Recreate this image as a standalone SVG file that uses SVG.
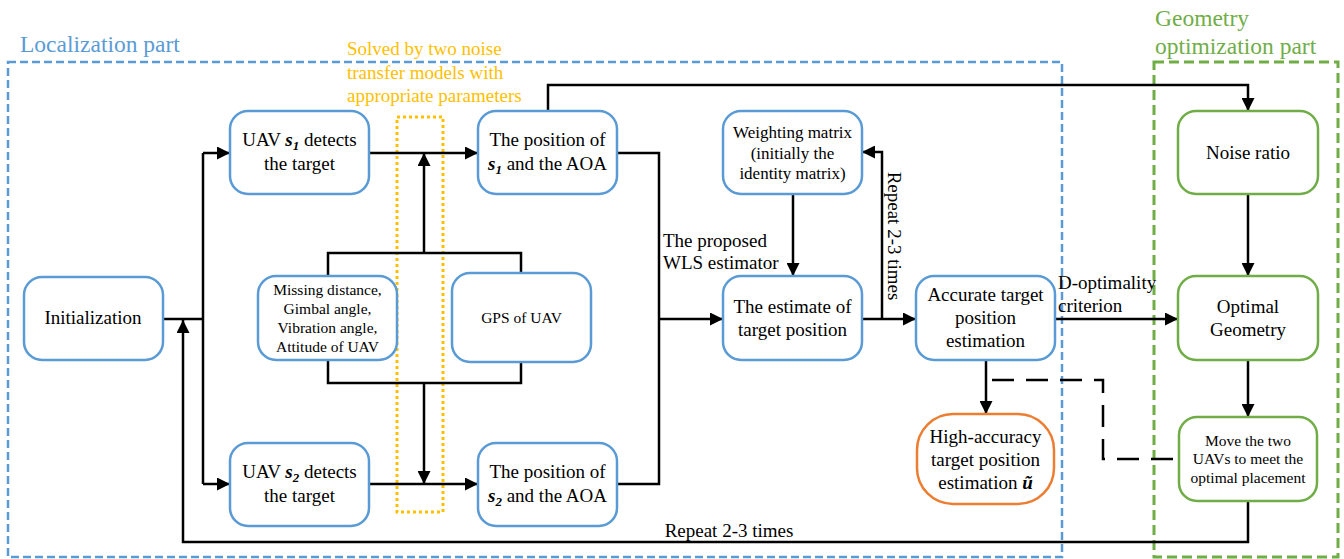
<svg xmlns="http://www.w3.org/2000/svg" width="1344" height="559" viewBox="0 0 1344 559" font-family="'Liberation Serif', 'DejaVu Serif', serif">
<defs>
<marker id="ah" viewBox="0 0 10 10" refX="10" refY="5" markerWidth="13" markerHeight="13" markerUnits="userSpaceOnUse" orient="auto">
<path d="M0,0 L10,5 L0,10 z" fill="#000"/>
</marker>
</defs>
<style>
text{font-family:'Liberation Serif','DejaVu Serif',serif;fill:#000}
.t{font-size:19px;text-anchor:middle}
.s{font-size:15.5px;text-anchor:middle}
.lab{font-size:19px}
.b{fill:#fff;stroke:#5B9BD5;stroke-width:2.5}
.g{fill:#fff;stroke:#70AD47;stroke-width:2.5}
.o{fill:#fff;stroke:#ED7D31;stroke-width:2.5}
.c{fill:none;stroke:#000;stroke-width:2.5}
.a{marker-end:url(#ah)}
.v{font-weight:bold;font-style:italic}
</style>
<rect width="1344" height="559" fill="#fff"/>
<g id="regions">
<rect x="8" y="62" width="1054" height="495" fill="none" stroke="#5B9BD5" stroke-width="2.5" stroke-dasharray="8 4"/>
<rect x="1154" y="62" width="184" height="495" fill="none" stroke="#70AD47" stroke-width="3" stroke-dasharray="10 5"/>
<rect x="397" y="117" width="46" height="395" fill="none" stroke="#FFC000" stroke-width="3" stroke-dasharray="3 3"/>
<text x="20" y="52" style="font-size:23.5px;fill:#5B9BD5">Localization part</text>
<text x="1155" y="26" style="font-size:23.5px;fill:#70AD47">Geometry</text>
<text x="1155" y="54" style="font-size:23.5px;fill:#70AD47">optimization part</text>
<text x="347" y="55" style="font-size:19px;fill:#FFC000">Solved by two noise</text>
<text x="347" y="79" style="font-size:19px;fill:#FFC000">transfer models with</text>
<text x="347" y="102" style="font-size:19px;fill:#FFC000">appropriate parameters</text>
</g>
<g id="connectors">
<path class="c" d="M163,319 H203"/>
<path class="c" d="M203,153 V484"/>
<path class="c a" d="M203,153 H230"/>
<path class="c a" d="M203,484 H230"/>
<path class="c a" d="M369,153 H478"/>
<path class="c a" d="M369,484 H478"/>
<path class="c" d="M328,276 V253 H521 V273"/>
<path class="c a" d="M424,253 V153"/>
<path class="c" d="M328,360 V383 H521 V362"/>
<path class="c a" d="M424,383 V484"/>
<path class="c" d="M617,153 H659 V484 H617"/>
<path class="c a" d="M659,319 H723"/>
<path class="c a" d="M793,194 V276"/>
<path class="c a" d="M862,319 H916"/>
<path class="c a" d="M882,319 V152 H862"/>
<path class="c a" d="M1055,319 H1178"/>
<path class="c a" d="M986,360 V414"/>
<path class="c" d="M992,380 H1103 V459 H1179" stroke-dasharray="22 12"/>
<path class="c a" d="M548,111 V85 H1248 V111"/>
<path class="c a" d="M1248,194 V276"/>
<path class="c a" d="M1248,360 V417"/>
<path class="c a" d="M1248,501 V542 H183 V320"/>
<text class="lab" x="663" y="247">The proposed</text>
<text class="lab" x="663" y="269">WLS estimator</text>
<text class="lab" x="1058" y="289">D-optimality</text>
<text class="lab" x="1058" y="312">criterion</text>
<text class="lab" transform="translate(888,236) rotate(90)" text-anchor="middle">Repeat 2-3 times</text>
<text class="lab" x="729" y="537" text-anchor="middle">Repeat 2-3 times</text>
</g>
<g id="init">
<rect class="b" x="24" y="277" width="139" height="83" rx="18"/>
<text class="t" x="93" y="324">Initialization</text>
</g>
<g id="uav1">
<rect class="b" x="230" y="111" width="139" height="83" rx="18"/>
<text class="t" x="299.5" y="146">UAV <tspan class="v">s</tspan><tspan class="v" dy="4" style="font-size:13px">1</tspan><tspan dy="-4"> detects</tspan></text>
<text class="t" x="299.5" y="170">the target</text>
</g>
<g id="pos1">
<rect class="b" x="478" y="111" width="139" height="83" rx="18"/>
<text class="t" x="547.5" y="146">The position of</text>
<text class="t" x="547.5" y="170"><tspan class="v">s</tspan><tspan class="v" dy="4" style="font-size:13px">1</tspan><tspan dy="-4"> and the AOA</tspan></text>
</g>
<g id="params">
<rect class="b" x="258" y="276" width="139" height="84" rx="18"/>
<text class="s" x="327.5" y="295">Missing distance,</text>
<text class="s" x="327.5" y="314">Gimbal angle,</text>
<text class="s" x="327.5" y="333">Vibration angle,</text>
<text class="s" x="327.5" y="352">Attitude of UAV</text>
</g>
<g id="gps">
<rect class="b" x="452" y="273" width="139" height="89" rx="18"/>
<text class="s" x="521.5" y="323">GPS of UAV</text>
</g>
<g id="uav2">
<rect class="b" x="230" y="443" width="139" height="83" rx="18"/>
<text class="t" x="299.5" y="478">UAV <tspan class="v">s</tspan><tspan class="v" dy="4" style="font-size:13px">2</tspan><tspan dy="-4"> detects</tspan></text>
<text class="t" x="299.5" y="502">the target</text>
</g>
<g id="pos2">
<rect class="b" x="478" y="443" width="139" height="83" rx="18"/>
<text class="t" x="547.5" y="478">The position of</text>
<text class="t" x="547.5" y="502"><tspan class="v">s</tspan><tspan class="v" dy="4" style="font-size:13px">2</tspan><tspan dy="-4"> and the AOA</tspan></text>
</g>
<g id="weight">
<rect class="b" x="723" y="111" width="139" height="83" rx="18"/>
<text class="t" x="792.5" y="138" style="font-size:17px">Weighting matrix</text>
<text class="t" x="792.5" y="159" style="font-size:17px">(initially the</text>
<text class="t" x="792.5" y="179" style="font-size:17px">identity matrix)</text>
</g>
<g id="estimate">
<rect class="b" x="723" y="276" width="139" height="84" rx="18"/>
<text class="t" x="792.5" y="313">The estimate of</text>
<text class="t" x="792.5" y="336">target position</text>
</g>
<g id="accurate">
<rect class="b" x="916" y="276" width="139" height="84" rx="18"/>
<text class="t" x="985.5" y="301">Accurate target</text>
<text class="t" x="985.5" y="324">position</text>
<text class="t" x="985.5" y="347">estimation</text>
</g>
<g id="highacc">
<rect class="o" x="917" y="414" width="137" height="90" rx="36"/>
<text class="t" x="985.5" y="443">High-accuracy</text>
<text class="t" x="985.5" y="466">target position</text>
<text class="t" x="985.5" y="489">estimation <tspan class="v">ũ</tspan></text>
</g>
<g id="noise">
<rect class="g" x="1178" y="111" width="140" height="83" rx="18"/>
<text class="t" x="1248" y="159">Noise ratio</text>
</g>
<g id="optimal">
<rect class="g" x="1178" y="276" width="140" height="84" rx="18"/>
<text class="t" x="1248" y="313">Optimal</text>
<text class="t" x="1248" y="336">Geometry</text>
</g>
<g id="move">
<rect class="g" x="1179" y="417" width="138" height="84" rx="18"/>
<text class="s" x="1248" y="446">Move the two</text>
<text class="s" x="1248" y="464">UAVs to meet the</text>
<text class="s" x="1248" y="483">optimal placement</text>
</g>
</svg>
